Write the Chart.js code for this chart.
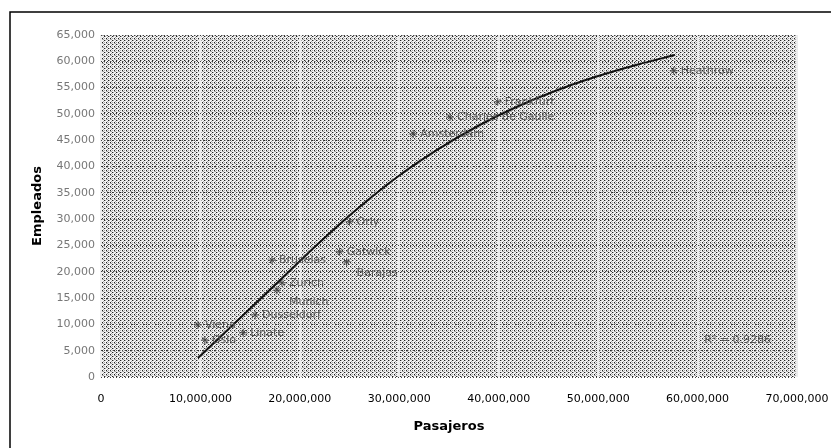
<!DOCTYPE html>
<html>
<head>
<meta charset="utf-8">
<script src="https://cdn.jsdelivr.net/npm/chart.js@4"></script>
<style>
  body { margin: 0; background: #fff; }
  #wrap { width: 831px; height: 448px; position: relative; }
</style>
</head>
<body>
<div id="wrap"><canvas id="airportChart"></canvas></div>
<script>
// Aeropuertos: pasajeros vs empleados
const airports = ['Heathrow', 'Frankfurt', 'Charles de Gaulle', 'Amsterdam', 'Orly', 'Gatwick', 'Barajas',
                  'Bruselas', 'Zurich', 'Munich', 'Dusseldorf', 'Viena', 'Oslo', 'Linate'];
const pasajeros = [57600000, 39900000, 35100000, 31400000, 25000000, 24000000, 24700000,
                   17200000, 18200000, 17700000, 15500000, 9750000, 10450000, 14300000];
const empleados = [58200, 52300, 49400, 46200, 29500, 23800, 21900,
                   22200, 17900, 16500, 11800, 9900, 7000, 8400];

// trend line
const trendX = [9750000, 14000000, 18000000, 22000000, 26000000, 30000000, 34000000,
                38000000, 42000000, 46000000, 50000000, 54000000, 57700000];
const trendY = [3600, 11200, 18400, 25600, 32300, 38300, 43400,
                47800, 51500, 54600, 57200, 59400, 61200];
const r2Text = 'R² = 0.9286';

const xTicks = [0, 10000000, 20000000, 30000000, 40000000, 50000000, 60000000, 70000000];
const yTicks = [0, 5000, 10000, 15000, 20000, 25000, 30000, 35000, 40000, 45000, 50000, 55000, 60000, 65000];

Chart.defaults.font.family = "'DejaVu Sans', Verdana, sans-serif";

// a few labels were moved by hand in the original
const labelShift = { 'Munich': [12, 12], 'Barajas': [10, 11] };

function makeStipple() {
    const c = document.createElement('canvas');
    c.width = 4; c.height = 4;
    const g = c.getContext('2d');
    g.fillStyle = '#f4f4f4';
    g.fillRect(0, 0, 4, 4);
    g.fillStyle = '#a8a8a8';
    [[1, 0], [3, 1], [0, 2], [2, 3], [3, 3]].forEach(p => g.fillRect(p[0], p[1], 1, 1));
    g.fillStyle = '#222';
    [[0, 0], [2, 2]].forEach(p => g.fillRect(p[0], p[1], 1, 1));
    return c;
}

const backdrop = {
    id: 'backdrop',
    beforeDraw(chart) {
        const { ctx, chartArea: a } = chart;
        ctx.save();
        ctx.fillStyle = ctx.createPattern(makeStipple(), 'repeat');
        ctx.fillRect(a.left, a.top, a.right - a.left, a.bottom - a.top);
        ctx.restore();
    },
    afterDraw(chart) {
        const { ctx, chartArea: a } = chart;
        ctx.save();
        // frame of the scanned figure
        ctx.strokeStyle = '#000';
        ctx.lineWidth = 1.5;
        ctx.beginPath();
        ctx.moveTo(10, 448);
        ctx.lineTo(10, 12);
        ctx.lineTo(831, 12);
        ctx.stroke();
        // R squared
        ctx.fillStyle = '#555';
        ctx.font = "11px 'DejaVu Sans', Verdana, sans-serif";
        ctx.textAlign = 'right';
        ctx.textBaseline = 'middle';
        ctx.fillText(r2Text, a.right - 26, 340);
        ctx.restore();
    }
};

const pointLabels = {
    id: 'pointLabels',
    afterDatasetsDraw(chart) {
        const { ctx } = chart;
        const meta = chart.getDatasetMeta(1);
        ctx.save();
        ctx.fillStyle = '#555';
        ctx.font = "11px 'DejaVu Sans', Verdana, sans-serif";
        ctx.textAlign = 'left';
        ctx.textBaseline = 'middle';
        meta.data.forEach((pt, i) => {
            const s = labelShift[airports[i]] || [7, 0];
            ctx.fillText(airports[i], pt.x + s[0], pt.y + s[1]);
        });
        ctx.restore();
    }
};

const ctx = document.getElementById('airportChart').getContext('2d');
new Chart(ctx, {
    data: {
        datasets: [{
            type: 'line',
            label: 'Tendencia',
            data: trendX.map((x, i) => ({ x: x, y: trendY[i] })),
            borderColor: '#111',
            borderWidth: 2,
            pointRadius: 0,
            cubicInterpolationMode: 'monotone',
            fill: false
        }, {
            type: 'scatter',
            label: 'Aeropuertos',
            data: pasajeros.map((x, i) => ({ x: x, y: empleados[i] })),
            pointStyle: 'star',
            pointRadius: 4,
            borderColor: '#444',
            borderWidth: 1,
            backgroundColor: '#444'
        }]
    },
    options: {
        responsive: true,
        maintainAspectRatio: false,
        animation: false,
        layout: { padding: { top: 35, right: 34, bottom: 0, left: 0 } },
        plugins: {
            legend: { display: false },
            tooltip: { enabled: false }
        },
        scales: {
            x: {
                type: 'linear',
                min: 0,
                max: 70000000,
                afterFit: s => { s.height = 71; s.paddingLeft = 0; s.paddingRight = 0; },
                afterBuildTicks: s => { s.ticks = xTicks.map(v => ({ value: v })); },
                ticks: {
                    color: '#000',
                    font: { size: 11 },
                    padding: 16,
                    maxRotation: 0,
                    callback: v => v.toLocaleString('en-US')
                },
                grid: { color: '#ececec', lineWidth: 2, drawTicks: false },
                border: { display: false },
                title: {
                    display: true,
                    text: 'Pasajeros',
                    color: '#000',
                    font: { size: 13, weight: 'bold' },
                    padding: { top: 0, bottom: 14 }
                }
            },
            y: {
                type: 'linear',
                min: 0,
                max: 65000,
                afterFit: s => { s.width = 101; s.paddingTop = 0; s.paddingBottom = 0; },
                afterBuildTicks: s => { s.ticks = yTicks.map(v => ({ value: v })); },
                ticks: {
                    color: '#777',
                    font: { size: 11 },
                    padding: 6,
                    callback: v => v.toLocaleString('en-US')
                },
                grid: { color: '#444', lineWidth: 1, drawTicks: false },
                border: { display: false, dash: [1, 2] },
                title: {
                    display: true,
                    text: 'Empleados',
                    color: '#000',
                    font: { size: 13, weight: 'bold' },
                    padding: { top: 30, bottom: 0 }
                }
            }
        }
    },
    plugins: [backdrop, pointLabels]
});
</script>
</body>
</html>
